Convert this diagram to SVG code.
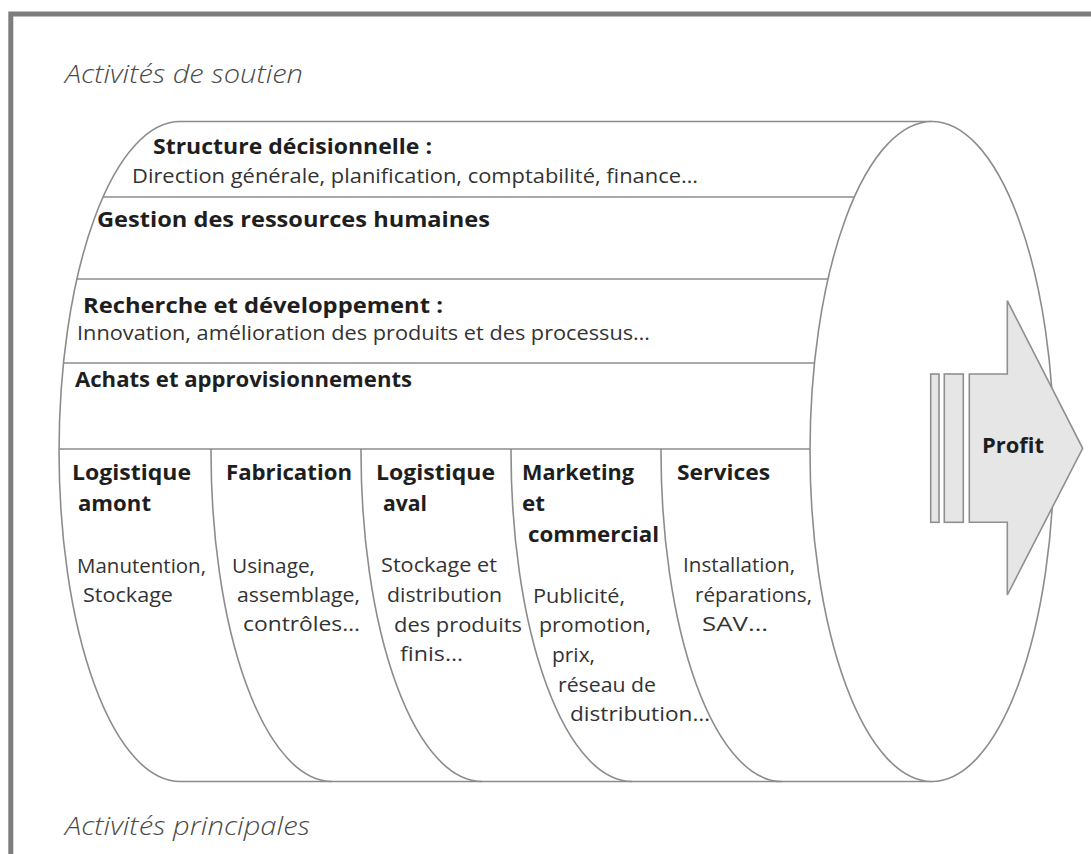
<svg xmlns="http://www.w3.org/2000/svg" width="1091" height="854" viewBox="0 0 1091 854">
  <style>
    .frame { fill: none; stroke: #7d7d7d; stroke-width: 5; }
    .edge { fill: none; stroke: #8c8c8c; stroke-width: 1.6; }
    .face { fill: #ffffff; stroke: #8c8c8c; stroke-width: 1.6; }
    .arrow { fill: #e6e6e6; stroke: #8f8f8f; stroke-width: 1.6; stroke-linejoin: miter; }
    text { font-family: "Open Sans", "Liberation Sans", sans-serif; }
    .h { font-size: 21px; font-weight: 700; fill: #1e1e1e; }
    .t { font-size: 20.5px; font-weight: 400; fill: #333333; }
    .cap { font-size: 26px; font-style: italic; font-weight: 300; fill: #4a4a4a; }
  </style>

  <rect x="0" y="0" width="1091" height="854" fill="#ffffff"/>

  <!-- outer frame: only top and left sides show -->
  <path class="frame" d="M10.8,854 V14 H1091"/>

  <text id="label-support" class="cap" x="65" y="83" textLength="238" lengthAdjust="spacingAndGlyphs">Activités de soutien</text>

  <!-- cylinder body -->
  <g id="cylinder">
    <path class="edge" d="M180,121.5 A121,330 0 0 0 180,781.5"/>
    <path class="edge" d="M180,121.5 H932"/>
    <path class="edge" d="M180,781.5 H932"/>
  </g>

  <!-- support activity bands -->
  <g id="bands">
    <path class="edge" d="M103,197 H855"/>
    <path class="edge" d="M76.8,279 H828"/>
    <path class="edge" d="M63.4,363 H814.5"/>
    <path class="edge" d="M59,449 H810"/>
  </g>

  <!-- primary activity column dividers -->
  <g id="columns">
    <path class="edge" d="M211,449 V451.5 A121,330 0 0 0 332,781.5"/>
    <path class="edge" d="M361,449 V451.5 A121,330 0 0 0 482,781.5"/>
    <path class="edge" d="M511,449 V451.5 A121,330 0 0 0 632,781.5"/>
    <path class="edge" d="M661,449 V451.5 A121,330 0 0 0 782,781.5"/>
  </g>

  <!-- front face of the cylinder -->
  <ellipse id="front-face" class="face" cx="932" cy="451.5" rx="122" ry="330"/>

  <!-- profit arrow -->
  <g id="profit">
    <rect class="arrow" x="930.7" y="374" width="8.3" height="148.3"/>
    <rect class="arrow" x="944.3" y="374" width="19" height="148.3"/>
    <polygon class="arrow" points="969.3,374 1007.3,374 1007.3,300.7 1082.7,448.3 1007.3,595 1007.3,522.3 969.3,522.3"/>
    <text class="h" x="982" y="453" textLength="62" lengthAdjust="spacingAndGlyphs">Profit</text>
  </g>

  <g id="structure">
    <text class="h" x="153" y="154" textLength="279" lengthAdjust="spacingAndGlyphs">Structure décisionnelle :</text>
    <text class="t" x="132" y="183" textLength="566" lengthAdjust="spacingAndGlyphs">Direction générale, planification, comptabilité, finance…</text>
  </g>

  <g id="grh">
    <text class="h" x="97" y="227" textLength="393" lengthAdjust="spacingAndGlyphs">Gestion des ressources humaines</text>
  </g>

  <g id="rd">
    <text class="h" x="83" y="313" textLength="360" lengthAdjust="spacingAndGlyphs">Recherche et développement :</text>
    <text class="t" x="77" y="340" textLength="573" lengthAdjust="spacingAndGlyphs">Innovation, amélioration des produits et des processus…</text>
  </g>

  <g id="achats">
    <text class="h" x="75" y="387" textLength="337" lengthAdjust="spacingAndGlyphs">Achats et approvisionnements</text>
  </g>

  <g id="logistique-amont">
    <text class="h" x="72" y="480" textLength="119" lengthAdjust="spacingAndGlyphs">Logistique</text>
    <text class="h" x="78" y="511" textLength="73" lengthAdjust="spacingAndGlyphs">amont</text>
    <text class="t" x="77" y="573" textLength="129" lengthAdjust="spacingAndGlyphs">Manutention,</text>
    <text class="t" x="83" y="602" textLength="90" lengthAdjust="spacingAndGlyphs">Stockage</text>
  </g>

  <g id="fabrication">
    <text class="h" x="226" y="480" textLength="126" lengthAdjust="spacingAndGlyphs">Fabrication</text>
    <text class="t" x="232" y="573" textLength="83" lengthAdjust="spacingAndGlyphs">Usinage,</text>
    <text class="t" x="237" y="602" textLength="123" lengthAdjust="spacingAndGlyphs">assemblage,</text>
    <text class="t" x="243" y="631" textLength="117" lengthAdjust="spacingAndGlyphs">contrôles…</text>
  </g>

  <g id="logistique-aval">
    <text class="h" x="376" y="480" textLength="119" lengthAdjust="spacingAndGlyphs">Logistique</text>
    <text class="h" x="383" y="511" textLength="44" lengthAdjust="spacingAndGlyphs">aval</text>
    <text class="t" x="381" y="572" textLength="116" lengthAdjust="spacingAndGlyphs">Stockage et</text>
    <text class="t" x="387" y="602" textLength="115" lengthAdjust="spacingAndGlyphs">distribution</text>
    <text class="t" x="394" y="632" textLength="128" lengthAdjust="spacingAndGlyphs">des produits</text>
    <text class="t" x="400" y="661" textLength="63" lengthAdjust="spacingAndGlyphs">finis…</text>
  </g>

  <g id="marketing">
    <text class="h" x="522" y="480" textLength="112" lengthAdjust="spacingAndGlyphs">Marketing</text>
    <text class="h" x="522" y="511" textLength="23" lengthAdjust="spacingAndGlyphs">et</text>
    <text class="h" x="528" y="542" textLength="131" lengthAdjust="spacingAndGlyphs">commercial</text>
    <text class="t" x="533" y="603" textLength="92" lengthAdjust="spacingAndGlyphs">Publicité,</text>
    <text class="t" x="539" y="632" textLength="112" lengthAdjust="spacingAndGlyphs">promotion,</text>
    <text class="t" x="552" y="662" textLength="43" lengthAdjust="spacingAndGlyphs">prix,</text>
    <text class="t" x="558" y="692" textLength="98" lengthAdjust="spacingAndGlyphs">réseau de</text>
    <text class="t" x="570" y="721" textLength="140" lengthAdjust="spacingAndGlyphs">distribution…</text>
  </g>

  <g id="services">
    <text class="h" x="677" y="480" textLength="93" lengthAdjust="spacingAndGlyphs">Services</text>
    <text class="t" x="683" y="572" textLength="112" lengthAdjust="spacingAndGlyphs">Installation,</text>
    <text class="t" x="695" y="602" textLength="117" lengthAdjust="spacingAndGlyphs">réparations,</text>
    <text class="t" x="702" y="631" textLength="66" lengthAdjust="spacingAndGlyphs">SAV…</text>
  </g>

  <text id="label-primary" class="cap" x="65" y="835" textLength="245" lengthAdjust="spacingAndGlyphs">Activités principales</text>
</svg>
